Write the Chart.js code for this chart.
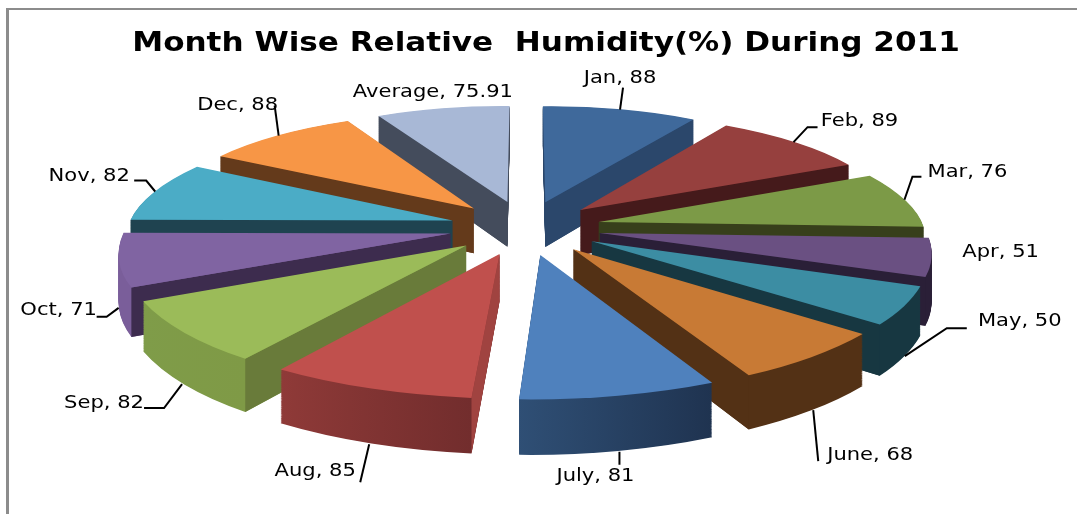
<!DOCTYPE html>
<html><head><meta charset="utf-8">
<style>html,body{margin:0;padding:0;background:#fff;overflow:hidden}#w{position:relative;width:1077px;height:514px}</style>
<script src="https://cdn.jsdelivr.net/npm/chart.js@4"></script>
</head><body><div id="w"><canvas id="c" width="1077" height="514"></canvas></div>
<script>
const titleText = "Month Wise Relative  Humidity(%) During 2011";
const categories = ["Jan","Feb","Mar","Apr","May","June","July","Aug","Sep","Oct","Nov","Dec","Average"];
const humidity = [88,89,76,51,50,68,81,85,82,71,82,88,75.91];
const topColors = ["#3f699b","#96403e","#7c9a47","#6a5082","#3c8da3","#c87a35","#4f81bd","#c0504d","#9bbb59","#8064a2","#4bacc6","#f79646","#a8b8d6"];
const wallColors = ["#2b476b","#451a1b","#373f1b","#2a1f37","#173741","#533115","#533115","#a04340","#697b3a","#3d2c4e","#1f4350","#643a1b","#444c5c"];
const rimLeft = ["#2b476b","#451a1b","#373f1b","#2a1f37","#173741","#533115","#2f4f75","#8f3a38","#7f9c49","#7a5e9a","#1f4350","#643a1b","#444c5c"];
const rimRight = ["#2b476b","#451a1b","#373f1b","#2a1f37","#173741","#533115","#1f3350","#722d2d","#7f9a46","#7a5e9a","#1f4350","#643a1b","#444c5c"];

/* camera of the tilted pie */
const cam = {cx:525, cy:223, A:325, B:115.4, C:4.5, H:46, k:0.14, explode:0.233};
function project(X,Y,z){
  const w = 1 + cam.k*Y;
  return {x: cam.cx + cam.A*X/w, y: cam.cy + (-cam.B*Y + cam.C + cam.H*z)/w};
}
/* leader layout relative to each slice's rim point: z of anchor, line bends, text centre */
const labelLayout = [
 {z:0,line:[[3,-22]],text:[0,-31]},
 {z:0,line:[[14,-15],[24,-15]],text:[66,-21]},
 {z:0,line:[[8,-23],[17,-23]],text:[63,-27]},
 {z:0,line:[],text:[69,-5]},
 {z:1,line:[[42,-28],[62,-28]],text:[115,-35]},
 {z:1,line:[[5,51]],text:[57,45]},
 {z:1,line:[[0,13]],text:[-24,25]},
 {z:1,line:[[-9,38]],text:[-54,27]},
 {z:1,line:[[-18,24],[-38,24]],text:[-78,19]},
 {z:1,line:[[-12,9],[-22,9]],text:[-60,2]},
 {z:0,line:[[-9,-11],[-21,-11]],text:[-66,-15]},
 {z:0,line:[[-4,-30]],text:[-41,-30]},
 {z:0,line:[],text:[-10,-16]}
];
function geom(arc){
  const t0 = arc.startAngle + Math.PI/2, t1 = arc.endAngle + Math.PI/2, m = (t0+t1)/2;
  const R = arc.outerRadius;
  const L0 = {x:arc.x, y:arc.y};
  const L1 = {x:L0.x+R*Math.sin(t0), y:L0.y-R*Math.cos(t0)};
  const L2 = {x:L0.x+R*Math.sin(t1), y:L0.y-R*Math.cos(t1)};
  const e = cam.explode, ax = e*Math.sin(m), ay = e*Math.cos(m);
  const W0 = [ax,ay], W1 = [ax+Math.sin(t0),ay+Math.cos(t0)], W2 = [ax+Math.sin(t1),ay+Math.cos(t1)];
  return {t0,t1,m,L0,L1,L2,W0,W1,W2};
}
function applyAffine(ctx,g,z){
  const P0=project(g.W0[0],g.W0[1],z), P1=project(g.W1[0],g.W1[1],z), P2=project(g.W2[0],g.W2[1],z);
  const ux=g.L1.x-g.L0.x, uy=g.L1.y-g.L0.y, vx=g.L2.x-g.L0.x, vy=g.L2.y-g.L0.y;
  const det=ux*vy-vx*uy;
  const dx1=P1.x-P0.x, dy1=P1.y-P0.y, dx2=P2.x-P0.x, dy2=P2.y-P0.y;
  const a=(dx1*vy-dx2*uy)/det, c=(dx2*ux-dx1*vx)/det;
  const b=(dy1*vy-dy2*uy)/det, d=(dy2*ux-dy1*vx)/det;
  const e=P0.x-a*g.L0.x-c*g.L0.y, f=P0.y-b*g.L0.x-d*g.L0.y;
  ctx.transform(a,b,c,d,e,f);
}
function drawArc(ctx,arc,fill){
  const o=arc.options, t=Object.create(o);
  Object.defineProperty(t,'backgroundColor',{value:fill});
  arc.options=t; arc.draw(ctx); arc.options=o;
}
function stretchedText(ctx,txt,x,y,sx){
  ctx.save(); ctx.translate(x,y); ctx.scale(sx,1); ctx.fillText(txt,0,0); ctx.restore();
}
function side(a,b,p){ return (b.x-a.x)*(p.y-a.y)-(b.y-a.y)*(p.x-a.x); }
const pie3d = {
  id:'pie3d',
  beforeDraw(chart){
    const ctx=chart.ctx; ctx.save();
    ctx.fillStyle='#fff'; ctx.fillRect(0,0,1077,514);
    ctx.fillStyle='#8c8c8c'; ctx.fillRect(6,8,1071,2); ctx.fillRect(6,8,3,506);
    ctx.restore();
  },
  beforeDatasetsDraw(chart){
    const ctx=chart.ctx, arcs=chart.getDatasetMeta(0).data;
    const order=arcs.map((a,i)=>i).sort((p,q)=>Math.cos(geom(arcs[q]).m)-Math.cos(geom(arcs[p]).m));
    order.forEach(i=>{
      const arc=arcs[i], g=geom(arc);
      const p1=project(g.W1[0],g.W1[1],0), p2=project(g.W2[0],g.W2[1],0);
      const leftL=p1.x<p2.x?g.L1:g.L2, rightL=p1.x<p2.x?g.L2:g.L1;
      const grad=ctx.createLinearGradient(leftL.x,leftL.y,rightL.x,rightL.y);
      grad.addColorStop(0,rimLeft[i]); grad.addColorStop(1,rimRight[i]);
      for(let s=60;s>=1;s--){
        ctx.save(); applyAffine(ctx,g,s/60); drawArc(ctx,arc,grad); ctx.restore();
      }
      [[g.W1,p2],[g.W2,p1]].forEach(([W,other])=>{
        const a=project(g.W0[0],g.W0[1],0), b=project(W[0],W[1],0), c=project(W[0],W[1],1), d=project(g.W0[0],g.W0[1],1);
        if(side(a,b,c)*side(a,b,other)>=0) return; /* this wall faces away from the viewer */
        ctx.beginPath(); ctx.moveTo(a.x,a.y); ctx.lineTo(b.x,b.y); ctx.lineTo(c.x,c.y); ctx.lineTo(d.x,d.y); ctx.closePath();
        ctx.fillStyle=wallColors[i]; ctx.fill();
      });
      ctx.save(); applyAffine(ctx,g,0); drawArc(ctx,arc,topColors[i]); ctx.restore();
    });
    return false;
  },
  afterDraw(chart){
    const ctx=chart.ctx, arcs=chart.getDatasetMeta(0).data;
    ctx.save();
    ctx.textAlign='center'; ctx.textBaseline='middle';
    ctx.strokeStyle='#000'; ctx.fillStyle='#000'; ctx.lineWidth=2;
    ctx.font='bold 26px "DejaVu Sans"';
    stretchedText(ctx,titleText,546,44,1.195);
    ctx.font='18px "DejaVu Sans"';
    arcs.forEach((arc,i)=>{
      const g=geom(arc), l=labelLayout[i], f=1+cam.explode;
      const p=project(f*Math.sin(g.m),f*Math.cos(g.m),l.z);
      if(l.line.length){
        ctx.beginPath(); ctx.moveTo(p.x,p.y);
        l.line.forEach(q=>ctx.lineTo(p.x+q[0],p.y+q[1])); ctx.stroke();
      }
      stretchedText(ctx,categories[i]+', '+humidity[i],p.x+l.text[0],p.y+l.text[1],1.17);
    });
    ctx.restore();
  }
};
new Chart(document.getElementById('c'),{
  type:'pie',
  data:{labels:categories,datasets:[{data:humidity,backgroundColor:topColors,borderWidth:0}]},
  options:{
    responsive:false,animation:false,
    layout:{padding:{top:60,bottom:10}},
    plugins:{legend:{display:false},tooltip:{enabled:false},title:{display:false}}
  },
  plugins:[pie3d]
});
</script></body></html>
